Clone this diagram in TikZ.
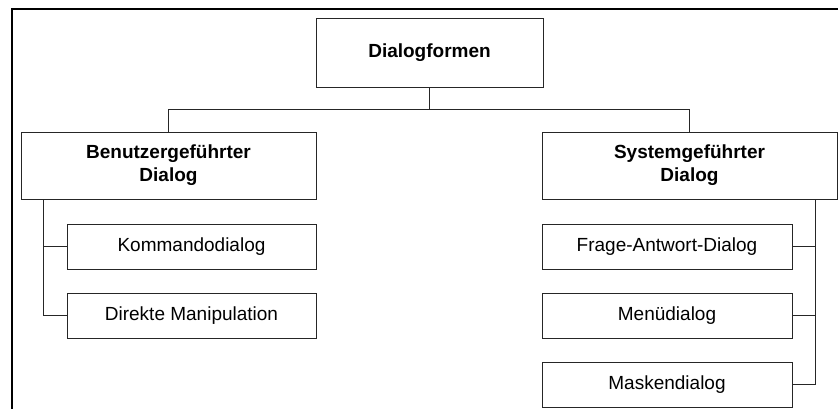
\documentclass[tikz,border=0pt]{standalone}
\usepackage{fontspec}
\setmainfont{Liberation Sans}
\usetikzlibrary{positioning}

\tikzset{
  box/.style={draw=black!85, line width=0.5pt, fill=white, align=center, inner sep=0pt,
    font=\fontsize{9.5}{11.5}\selectfont},
  headbox/.style={box, font=\bfseries\fontsize{9.5}{11.5}\selectfont},
  leafbox/.style={box, minimum width=124.5pt, minimum height=22.5pt},
  link/.style={draw=black!85, line width=0.5pt}
}

\begin{document}
\begin{tikzpicture}[x=0.5pt,y=-0.5pt]
\clip (0,0) rectangle (838,408);
\useasboundingbox (0,0) rectangle (838,408);
% frame
\draw[line width=1pt] (845,9) -- (12,9) -- (12,415);

\node[headbox, minimum width=113.5pt, minimum height=34.5pt] (df) at (429.5,52.5) {Dialogformen};
\node[headbox, minimum width=147.5pt, minimum height=33.5pt] (bd) at (168.5,165.5) {Benutzergeführter\\Dialog};
\node[headbox, minimum width=147.5pt, minimum height=33.5pt] (sd) at (689.5,165.5) {Systemgeführter\\Dialog};

\node[leafbox, below=12pt of bd.south east, anchor=north east] (kd) {Kommandodialog};
\node[leafbox, below=11.5pt of kd] (dm) {Direkte Manipulation};

\node[leafbox, minimum width=125pt, below=12pt of sd.south west, anchor=north west] (fad) {Frage-Antwort-Dialog};
\node[leafbox, minimum width=125pt, below=11.5pt of fad] (md) {Menüdialog};
\node[leafbox, minimum width=125pt, below=11.5pt of md] (mkd) {Maskendialog};

% connectors
\coordinate (j) at (429.5,109);
\coordinate (lt) at (43,199);
\coordinate (rt) at (815,199);
\draw[link] (df.south) -- (j) -| (bd.north);
\draw[link] (j) -| (sd.north);
\draw[link] (lt) |- (dm.west);
\draw[link] (kd.west) -- (kd.west -| lt);
\draw[link] (rt) |- (mkd.east);
\draw[link] (fad.east) -- (fad.east -| rt);
\draw[link] (md.east) -- (md.east -| rt);
\end{tikzpicture}
\end{document}
